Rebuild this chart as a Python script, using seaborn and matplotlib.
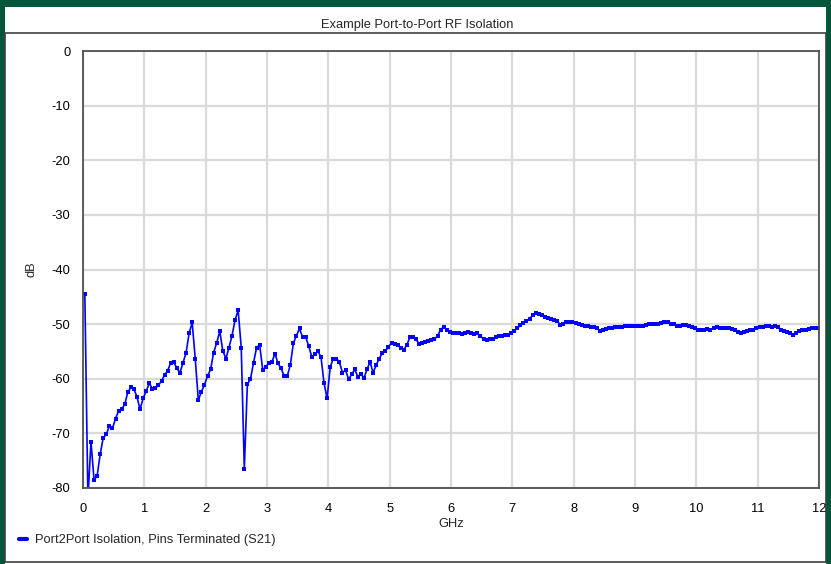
import matplotlib
matplotlib.use("Agg")
import matplotlib.pyplot as plt
from matplotlib.patches import Rectangle
from matplotlib.lines import Line2D
import numpy as np
import pandas as pd
import seaborn as sns

freq_ghz = [
    0.03, 0.08, 0.13, 0.18, 0.23, 0.28, 0.33, 0.38, 0.43, 0.48, 0.53, 0.58, 0.63, 0.68, 0.73, 0.78, 0.83, 0.88, 0.93, 0.98,
    1.03, 1.08, 1.13, 1.18, 1.23, 1.28, 1.33, 1.38, 1.43, 1.48, 1.53, 1.58, 1.63, 1.68, 1.73, 1.78, 1.83, 1.88, 1.93, 1.98,
    2.03, 2.08, 2.13, 2.18, 2.23, 2.28, 2.33, 2.38, 2.43, 2.48, 2.53, 2.58, 2.63, 2.68, 2.73, 2.78, 2.83, 2.88, 2.93, 2.98,
    3.03, 3.08, 3.13, 3.18, 3.23, 3.28, 3.33, 3.38, 3.43, 3.48, 3.53, 3.58, 3.63, 3.68, 3.73, 3.78, 3.83, 3.88, 3.93, 3.98,
    4.03, 4.08, 4.13, 4.18, 4.23, 4.28, 4.33, 4.38, 4.43, 4.48, 4.53, 4.58, 4.63, 4.68, 4.73, 4.78, 4.83, 4.88, 4.93, 4.98,
    5.03, 5.08, 5.13, 5.18, 5.23, 5.28, 5.33, 5.38, 5.43, 5.48, 5.53, 5.58, 5.63, 5.68, 5.73, 5.78, 5.83, 5.88, 5.93, 5.98,
    6.03, 6.08, 6.13, 6.18, 6.23, 6.28, 6.33, 6.38, 6.43, 6.48, 6.53, 6.58, 6.63, 6.68, 6.73, 6.78, 6.83, 6.88, 6.93, 6.98,
    7.03, 7.08, 7.13, 7.18, 7.23, 7.28, 7.33, 7.38, 7.43, 7.48, 7.53, 7.58, 7.63, 7.68, 7.73, 7.78, 7.83, 7.88, 7.93, 7.98,
    8.03, 8.08, 8.13, 8.18, 8.23, 8.28, 8.33, 8.38, 8.43, 8.48, 8.53, 8.58, 8.63, 8.68, 8.73, 8.78, 8.83, 8.88, 8.93, 8.98,
    9.03, 9.08, 9.13, 9.18, 9.23, 9.28, 9.33, 9.38, 9.43, 9.48, 9.53, 9.58, 9.63, 9.68, 9.73, 9.78, 9.83, 9.88, 9.93, 9.98,
    10.03, 10.08, 10.13, 10.18, 10.23, 10.28, 10.33, 10.38, 10.43, 10.48, 10.53, 10.58, 10.63, 10.68, 10.73, 10.78, 10.83, 10.88, 10.93, 10.98,
    11.03, 11.08, 11.13, 11.18, 11.23, 11.28, 11.33, 11.38, 11.43, 11.48, 11.53, 11.58, 11.63, 11.68, 11.73, 11.78, 11.83, 11.88, 11.93, 11.98,
]

isolation_db = [
    -44.5, -82.0, -71.5, -78.5, -77.8, -73.8, -70.8, -70.2, -68.6, -69.1, -67.3, -65.9, -65.6, -64.7, -62.5, -61.6, -61.9, -63.3, -65.6, -63.6,
    -62.3, -60.8, -61.8, -61.7, -61.2, -60.4, -59.3, -58.5, -57.1, -56.9, -58.1, -58.9, -57.1, -55.3, -51.7, -49.7, -56.3, -63.9, -62.4, -61.1,
    -59.5, -58.3, -55.2, -53.4, -51.3, -54.9, -56.3, -54.3, -52.1, -49.2, -47.5, -54.3, -76.5, -61.0, -60.1, -57.1, -54.3, -53.8, -58.4, -57.8,
    -57.2, -56.9, -55.4, -57.2, -58.1, -59.5, -59.5, -57.5, -53.5, -52.1, -50.8, -52.4, -52.3, -54.0, -56.0, -55.4, -55.0, -56.0, -60.8, -63.6,
    -57.9, -56.3, -56.3, -56.9, -58.9, -58.4, -60.1, -59.2, -58.3, -59.6, -59.1, -59.9, -58.3, -56.9, -58.9, -57.5, -56.3, -55.3, -55.0, -54.1,
    -53.5, -53.6, -53.9, -54.3, -54.7, -53.8, -52.4, -52.3, -52.8, -53.6, -53.4, -53.3, -53.1, -52.9, -52.7, -52.2, -51.0, -50.5, -51.0, -51.4,
    -51.7, -51.7, -51.6, -51.8, -51.7, -51.5, -51.6, -51.8, -51.7, -52.2, -52.7, -52.9, -52.8, -52.7, -52.4, -52.2, -52.1, -52.0, -51.9, -51.7,
    -51.2, -50.8, -50.2, -49.8, -49.5, -49.0, -48.4, -48.0, -48.1, -48.4, -48.7, -48.9, -49.1, -49.2, -49.4, -50.1, -49.9, -49.7, -49.6, -49.6,
    -49.8, -50.0, -50.1, -50.3, -50.4, -50.5, -50.6, -50.8, -51.3, -51.1, -50.9, -50.8, -50.8, -50.6, -50.5, -50.6, -50.4, -50.3, -50.4, -50.3,
    -50.3, -50.4, -50.4, -50.2, -50.0, -49.9, -50.0, -49.9, -49.8, -49.6, -49.7, -49.9, -50.0, -50.3, -50.3, -50.2, -50.1, -50.3, -50.6, -50.8,
    -51.0, -51.1, -51.1, -50.9, -51.0, -50.7, -50.5, -50.7, -50.8, -50.8, -50.8, -50.9, -51.0, -51.5, -51.6, -51.5, -51.3, -51.1, -51.0, -50.8,
    -50.6, -50.5, -50.4, -50.3, -50.6, -50.3, -50.6, -51.1, -51.3, -51.5, -51.7, -52.0, -51.6, -51.3, -51.1, -51.0, -50.9, -50.8, -50.8, -50.8,
]

x_ticks = list(range(0, 13))
y_ticks = [0, -10, -20, -30, -40, -50, -60, -70, -80]
series_name = "Port2Port Isolation, Pins Terminated (S21)"

df = pd.DataFrame({"GHz": freq_ghz, "dB": isolation_db})

sns.set_style("white")
plt.rcParams["font.family"] = ["Liberation Sans Narrow", "Liberation Sans", "DejaVu Sans"]
plt.rcParams["axes.unicode_minus"] = False
FS = 9.3

W, H = 831, 564
fig = plt.figure(figsize=(W / 100, H / 100), dpi=100, facecolor="#00563b")

# white window panel and inner frame (behind the axes)
fig.patches.append(Rectangle((5 / W, 0), (826 - 5) / W, (H - 7) / H, transform=fig.transFigure,
                             facecolor="white", edgecolor="none", zorder=-2))
fig.patches.append(Rectangle((5 / W, 2 / H), (826 - 5) / W, (H - 33 - 2) / H, transform=fig.transFigure,
                             facecolor="none", edgecolor="#404040", linewidth=1.2, zorder=-1))

ax = fig.add_axes([83 / W, 1 - 488 / H, (819 - 83) / W, (488 - 51) / H])
ax.set_zorder(2)
ax.set_facecolor("white")

sns.lineplot(data=df, x="GHz", y="dB", ax=ax, color="#0000ff", linewidth=1.2,
             marker="s", markersize=3.2, markeredgewidth=0, sort=False, legend=False)

ax.set_xlim(0, 12)
ax.set_ylim(-80, 0)
ax.set_xticks(x_ticks)
ax.set_yticks(y_ticks)
ax.set_xticklabels([str(t) for t in x_ticks])
ax.set_yticklabels([str(t) for t in y_ticks])
ax.grid(True, color="#dadada", linewidth=1.6)
ax.set_axisbelow(True)
for s in ax.spines.values():
    s.set_color("#505050")
    s.set_linewidth(1.3)
ax.tick_params(axis="both", direction="out", length=4, width=1, color="#505050",
               labelsize=FS, labelcolor="black", pad=5)
ax.tick_params(axis="x", pad=7)

ax.set_xlabel("GHz", fontsize=FS, labelpad=2)
ax.set_ylabel("dB", fontsize=FS, labelpad=10)

fig.text(417 / W, 1 - 25 / H, "Example Port-to-Port RF Isolation", ha="center", va="center", fontsize=FS)

handle = Line2D([], [], color="#0000ff", linewidth=3)
fig.legend(handles=[handle], labels=[series_name], loc="center left",
           bbox_to_anchor=(14 / W, 1 - 540 / H), frameon=False, fontsize=FS,
           handlelength=0.6, handletextpad=0.6, borderaxespad=0)

fig.savefig("out.png", dpi=100, facecolor=fig.get_facecolor())
